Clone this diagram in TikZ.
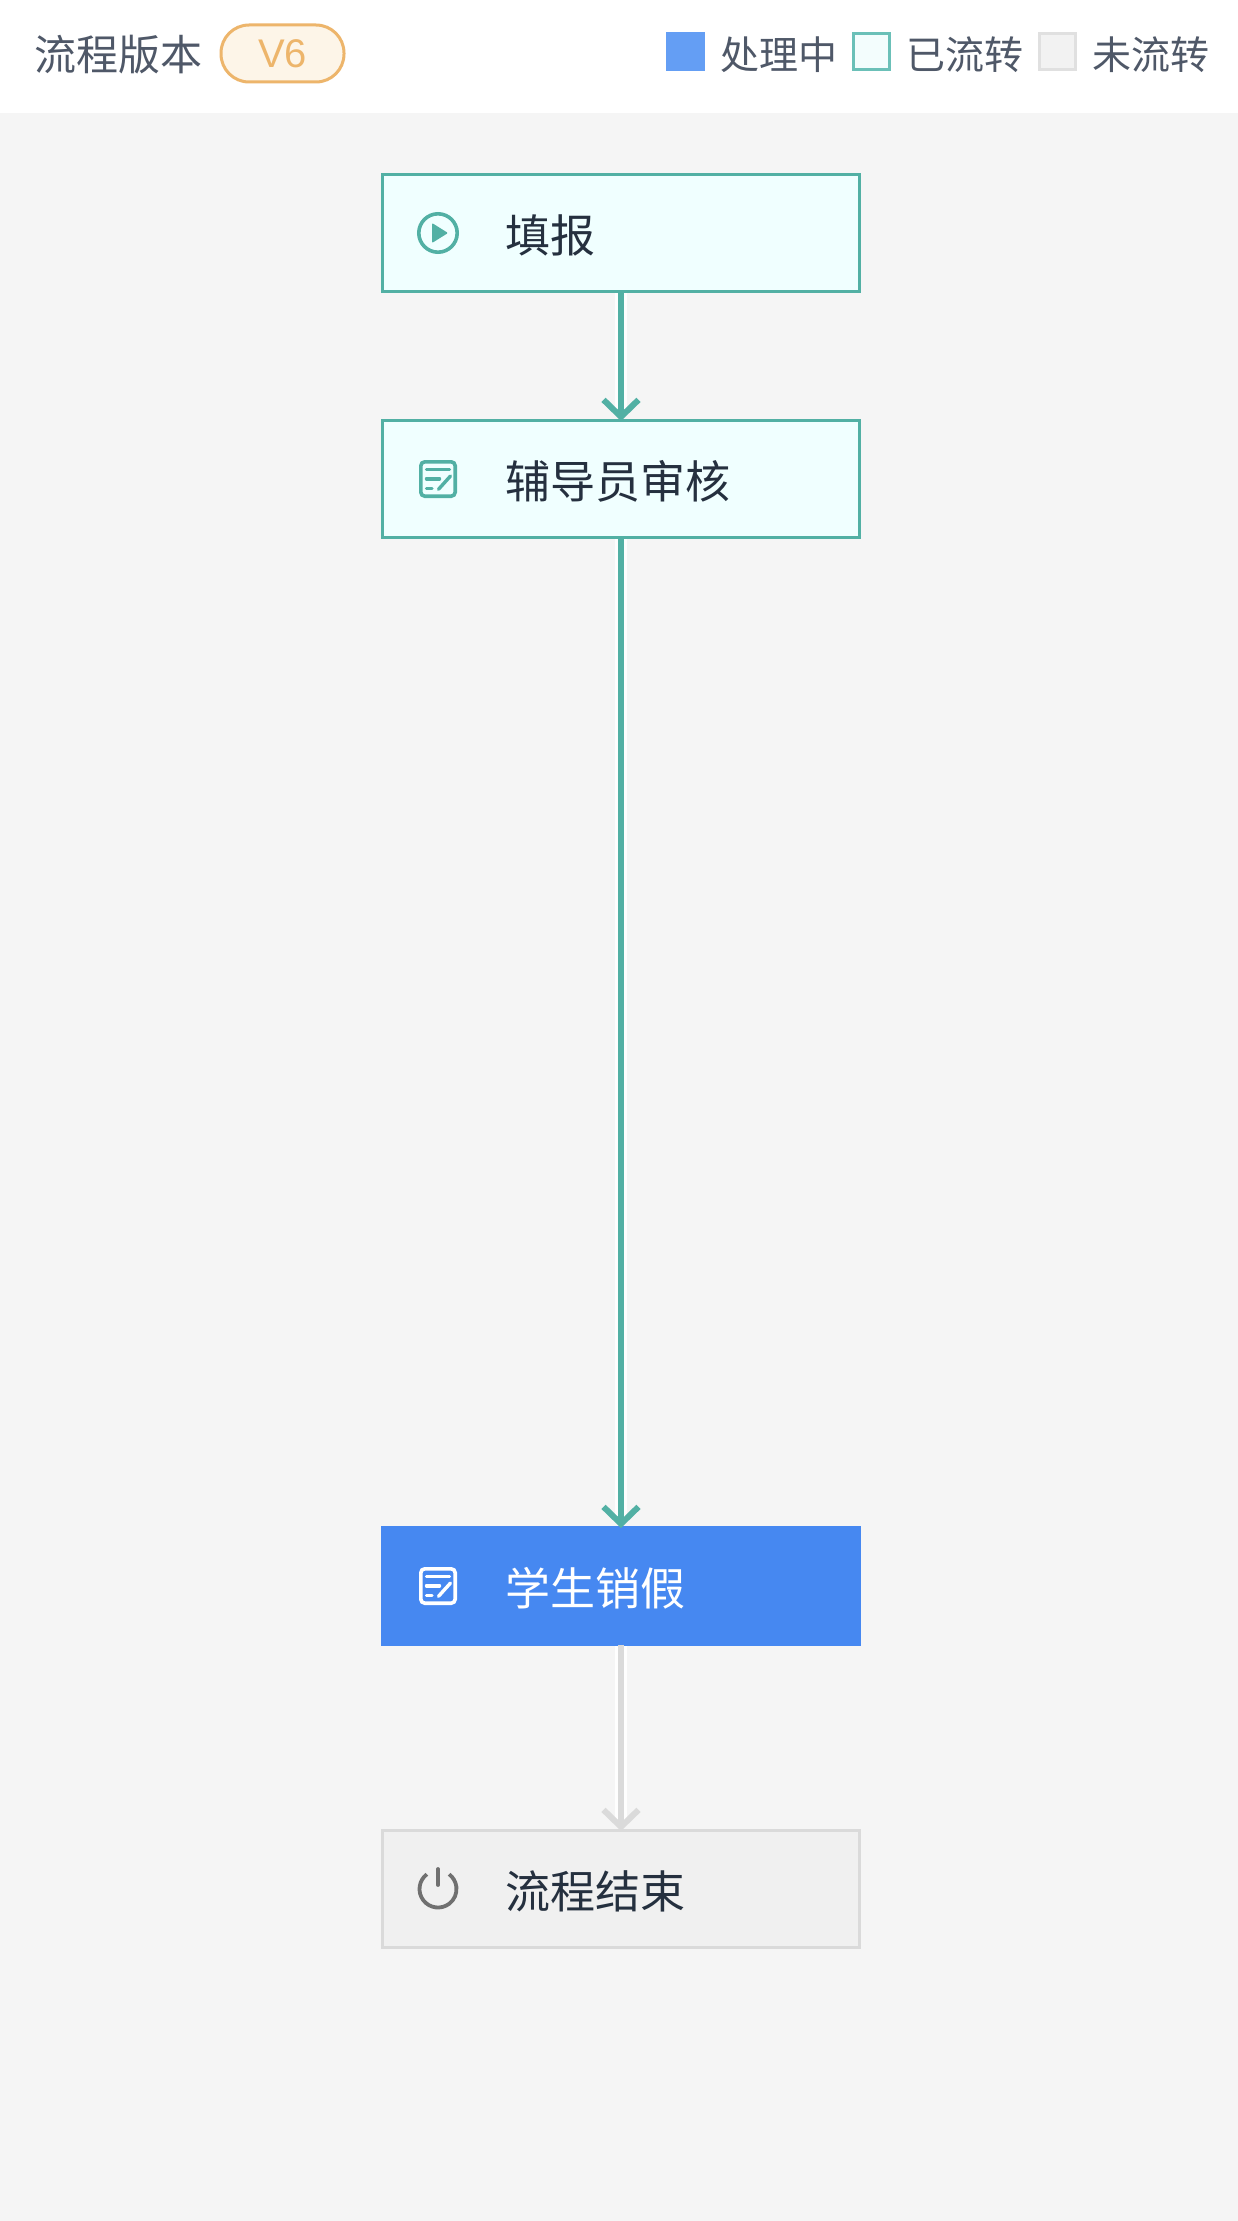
\documentclass[tikz,border=0pt]{standalone}
\usepackage{fontspec}
\setmainfont{Noto Sans CJK SC}
\newfontfamily\latinfont{Liberation Sans}
\usetikzlibrary{arrows.meta}
\definecolor{flowteal}{HTML}{52B0A4}
\definecolor{doneFill}{HTML}{F0FFFF}
\definecolor{pageBg}{HTML}{F5F5F5}
\definecolor{activeBlue}{HTML}{4688F1}
\definecolor{todoFill}{HTML}{F0F0F0}
\definecolor{todoLine}{HTML}{DADADA}
\definecolor{nodeText}{HTML}{25303F}
\definecolor{headText}{HTML}{4F5868}
\definecolor{pillLine}{HTML}{EDB56B}
\definecolor{pillFill}{HTML}{FDF5E8}
\definecolor{swBlue}{HTML}{649EF4}
\definecolor{swTeal}{HTML}{6BC0B8}
\definecolor{swTealFill}{HTML}{F3FDFD}
\definecolor{swGray}{HTML}{E0E0E0}
\definecolor{swGrayFill}{HTML}{F2F2F2}
\definecolor{powerGray}{HTML}{707070}
\tikzset{
  flowbox/.style={rectangle,draw,line width=3pt,minimum width=477pt,minimum height=117pt,
    outer sep=0pt,inner xsep=0pt,inner ysep=0pt,text width=477pt,align=left,
    text height=42pt,text depth=3pt,
    font=\fontsize{45}{45}\selectfont,text=nodeText,
    execute at begin node={\hspace*{123pt}}},
  donebox/.style={flowbox,draw=flowteal,fill=doneFill},
  activebox/.style={flowbox,draw=activeBlue,fill=activeBlue,text=white},
  todobox/.style={flowbox,draw=todoLine,fill=todoFill},
  halo/.style={line width=12pt,draw=white,opacity=0.9,shorten <=1.5pt,shorten >=6pt},
  flowline/.style={line width=6pt,draw=flowteal,shorten >=-0.5pt,
    -{Straight Barb[length=17pt,width=35pt,line width=6pt]}},
  todoflow/.style={flowline,draw=todoLine},
  swatch/.style={rectangle,minimum width=36pt,minimum height=36pt,inner sep=0pt,outer sep=0pt,line width=3pt},
  legendtext/.style={anchor=west,inner sep=0pt,text=headText,font=\fontsize{39}{39}\selectfont},
  noteicon/.pic={
    \draw[#1,line width=3.6pt,rounded corners=4pt] (-17.2,-17.2) rectangle (17.2,17.2);
    \draw[#1,line width=3.4pt,line cap=round] (-11.5,-9.5) -- (11.5,-9.5);
    \draw[#1,line width=3.4pt,line cap=round] (-11.5,-0.2) -- (1.5,-0.2);
    \draw[#1,line width=3.4pt,line cap=round] (-11.5,9.4) -- (-6,9.4);
    \draw[#1,line width=3.4pt,line cap=round] (0.5,10.3) -- (12.5,-3);
  },
  playicon/.pic={
    \draw[flowteal,line width=3.6pt] (0,0) circle[radius=19.2pt];
    \fill[flowteal,rounded corners=1pt] (-6,-10) -- (10,0) -- (-6,10) -- cycle;
  },
  powericon/.pic={
    \draw[powerGray,line width=3.8pt] (-11.13,-14.77) arc[start angle=127,end angle=413,radius=18.5pt];
    \draw[powerGray,line width=3.8pt,line cap=round] (0,-20) -- (0,-4);
  },
}
\begin{document}
\begin{tikzpicture}[x=1pt,y=-1pt]
\useasboundingbox (0,0) rectangle (1238,2221);
\fill[pageBg] (0,0) rectangle (1238,2221);
\fill[white] (0,0) rectangle (1238,113);

% header
\node[anchor=west,inner sep=0pt,text=headText,font=\fontsize{42}{42}\selectfont] (title) at (34,54.5) {流程版本};
\node[rectangle,rounded corners=28pt,draw=pillLine,fill=pillFill,line width=3pt,
  minimum width=123pt,minimum height=57pt,inner sep=0pt,text=pillLine,
  font=\latinfont\fontsize{40}{40}\selectfont] (version) at (282.5,53.5) {V6};
\node[swatch,draw=swBlue,fill=swBlue] (swa) at (685.5,51.5) {};
\node[legendtext] (lega) at (720,54.5) {处理中};
\node[swatch,draw=swTeal,fill=swTealFill] (swb) at (871.5,51.5) {};
\node[legendtext] (legb) at (906.5,54.5) {已流转};
\node[swatch,draw=swGray,fill=swGrayFill] (swc) at (1057.5,51.5) {};
\node[legendtext] (legc) at (1092.5,54.5) {未流转};

% steps
\node[donebox] (fill) at (621,233) {填报};
\node[donebox] (review) at (621,479) {辅导员审核};
\node[activebox] (cancel) at (621,1586) {学生销假};
\node[todobox] (end) at (621,1889) {流程结束};

% connectors
\draw[halo] (fill) -- (review);
\draw[flowline] (fill) -- (review);
\draw[halo] (review) -- (cancel);
\draw[flowline] (review) -- (cancel);
\draw[halo] (cancel) -- (end);
\draw[todoflow] (cancel) -- (end);

% icons
\pic at (438,233) {playicon};
\pic at (438,479) {noteicon=flowteal};
\pic at (438,1586) {noteicon=white};
\pic at (438,1889) {powericon};
\end{tikzpicture}
\end{document}
